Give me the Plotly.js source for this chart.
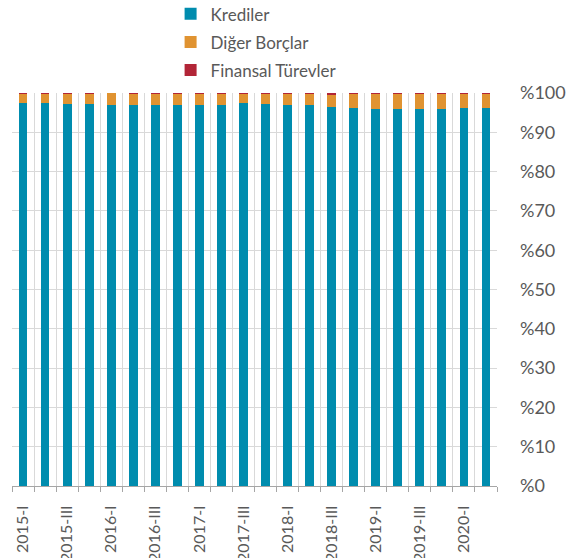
<!DOCTYPE html>
<html>
<head>
<meta charset="utf-8">
<script src="https://cdn.plot.ly/plotly-3.0.1.min.js"></script>
<style>html,body{margin:0;padding:0;overflow:hidden;background:#fff}#chart{width:569px;height:558px}</style>
</head>
<body>
<div id="chart"></div>
<script>
const quarters = ["2015-I","2015-II","2015-III","2015-IV","2016-I","2016-II","2016-III","2016-IV","2017-I","2017-II","2017-III","2017-IV","2018-I","2018-II","2018-III","2018-IV","2019-I","2019-II","2019-III","2019-IV","2020-I","2020-II"];
const krediler = [97.4,97.4,97.3,97.3,96.95,96.95,97.0,97.0,96.95,97.0,97.4,97.3,96.95,96.95,96.5,96.3,95.9,95.95,95.9,95.95,96.3,96.3];
const finansalTurevler = [0.3,0.2,0.3,0.15,0.1,0.2,0.15,0.3,0.15,0.3,0.2,0.2,0.2,0.2,0.5,0.3,0.3,0.2,0.2,0.2,0.2,0.2];
const digerBorclar = krediler.map((k,i)=>+(100-k-finansalTurevler[i]).toFixed(2));
const yTickLabels = ["%0","%10","%20","%30","%40","%50","%60","%70","%80","%90","%100"];

const idx = quarters.map((q,i)=>i);
const labelIdx = idx.filter(i=>i%2===0);
const font = "Lato, 'Open Sans', sans-serif";
const txt = "#595959";

const traces = [
  {name:"Krediler", y:krediler, color:"#008CAE", g:"a"},
  {name:"Diğer Borçlar", y:digerBorclar, color:"#E09331", g:"b"},
  {name:"Finansal Türevler", y:finansalTurevler, color:"#B22537", g:"c"}
].map(t=>({type:"bar", x:idx, y:t.y, name:t.name, legendgroup:t.g, marker:{color:t.color, line:{width:0}}, hoverinfo:"skip"}));

const layout = {
  width:569, height:558,
  margin:{l:12, r:72, t:93, b:72, autoexpand:false},
  barmode:"stack", bargap:0.6,
  paper_bgcolor:"#fff", plot_bgcolor:"#fff",
  font:{family:font, color:txt},
  showlegend:true,
  legend:{x:0.327, xanchor:"left", y:1.246, yanchor:"top", traceorder:"grouped", tracegroupgap:3, font:{size:17, color:txt, family:font}, bgcolor:"rgba(0,0,0,0)"},
  xaxis:{range:[-0.5,21.5], tickmode:"array", tickvals:labelIdx, ticktext:labelIdx.map(i=>quarters[i]),
    tickangle:-90, tickfont:{size:16, color:txt, family:font}, ticks:"", showgrid:false, zeroline:false,
    showline:true, linecolor:"#a6a6a6", linewidth:1, ticklabelstandoff:12,
    minor:{tickmode:"array", tickvals:idx.concat([21]).map(i=>i-0.5).concat([21.5]), ticks:"outside", ticklen:5, tickcolor:"#a6a6a6", showgrid:true, gridcolor:"#d9d9d9", gridwidth:1}},
  yaxis:{range:[0,100], side:"right", tickmode:"array", tickvals:yTickLabels.map((_,i)=>i*10), ticktext:yTickLabels,
    tickfont:{size:18, color:txt, family:font}, showgrid:true, gridcolor:"#d9d9d9", gridwidth:1, zeroline:false, showline:false, ticks:"", ticklabelstandoff:22}
};
Plotly.newPlot("chart", traces, layout, {displayModeBar:false, staticPlot:true});
</script>
</body>
</html>
